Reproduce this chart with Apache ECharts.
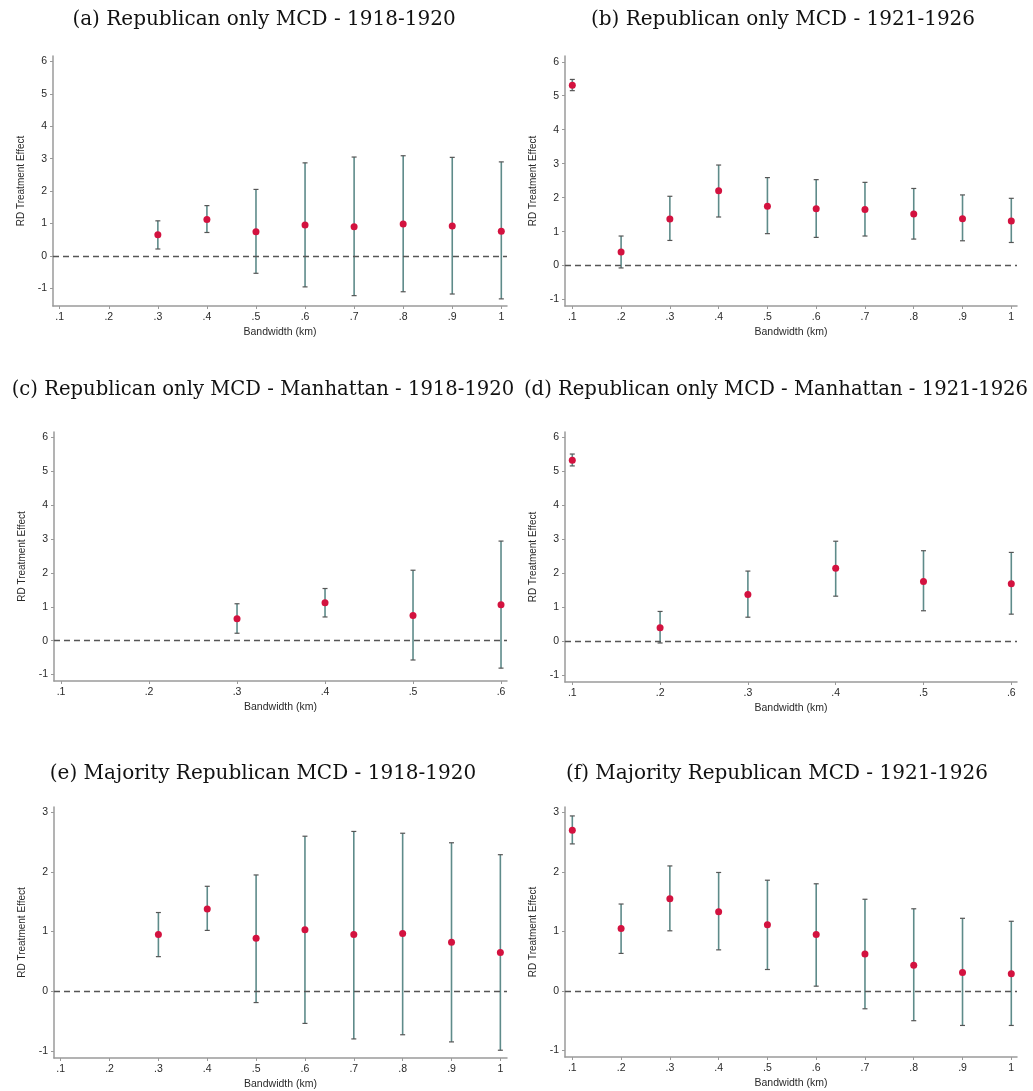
<!DOCTYPE html>
<html>
<head>
<meta charset="utf-8">
<script src="https://cdn.jsdelivr.net/npm/echarts@6/dist/echarts.min.js"></script>
<style>
html,body{margin:0;padding:0;background:#fff;}
#chart{width:1033px;height:1091px;}
</style>
</head>
<body>
<div id="chart"></div>
<script>
// ---------- DATA ----------
const bwFull = [0.1, 0.2, 0.3, 0.4, 0.5, 0.6, 0.7, 0.8, 0.9, 1.0];
const bwManhattan = [0.1, 0.2, 0.3, 0.4, 0.5, 0.6];
const yTicksTop = [-1, 0, 1, 2, 3, 4, 5, 6];
const yTicksBottom = [-1, 0, 1, 2, 3];

const titles = [
  "(a) Republican only MCD - 1918-1920",
  "(b) Republican only MCD - 1921-1926",
  "(c) Republican only MCD - Manhattan - 1918-1920",
  "(d) Republican only MCD - Manhattan - 1921-1926",
  "(e) Majority Republican MCD - 1918-1920",
  "(f) Majority Republican MCD - 1921-1926"
];

const estA = [null, null, 0.65, 1.12, 0.74, 0.95, 0.90, 0.98, 0.92, 0.76];
const loA  = [null, null, 0.21, 0.72, -0.54, -0.96, -1.23, -1.11, -1.18, -1.33];
const hiA  = [null, null, 1.08, 1.55, 2.05, 2.87, 3.05, 3.09, 3.04, 2.90];

const estB = [5.31, 0.40, 1.37, 2.20, 1.75, 1.67, 1.65, 1.52, 1.38, 1.31];
const loB  = [5.15, -0.07, 0.74, 1.43, 0.94, 0.83, 0.87, 0.78, 0.73, 0.68];
const hiB  = [5.48, 0.87, 2.04, 2.96, 2.59, 2.53, 2.45, 2.27, 2.08, 1.98];

const estC = [null, null, 0.65, 1.12, 0.74, 1.06];
const loC  = [null, null, 0.22, 0.70, -0.57, -0.81];
const hiC  = [null, null, 1.09, 1.54, 2.08, 2.94];

const estD = [5.33, 0.39, 1.37, 2.14, 1.75, 1.69];
const loD  = [5.16, -0.06, 0.70, 1.32, 0.89, 0.79];
const hiD  = [5.51, 0.87, 2.06, 2.94, 2.66, 2.61];

const estE = [null, null, 0.95, 1.38, 0.89, 1.03, 0.95, 0.97, 0.82, 0.65];
const loE  = [null, null, 0.58, 1.02, -0.19, -0.54, -0.80, -0.73, -0.85, -0.99];
const hiE  = [null, null, 1.32, 1.76, 1.95, 2.60, 2.68, 2.65, 2.49, 2.29];

const estF = [2.70, 1.05, 1.55, 1.33, 1.11, 0.95, 0.62, 0.43, 0.31, 0.29];
const loF  = [2.47, 0.63, 1.01, 0.69, 0.36, 0.08, -0.30, -0.50, -0.58, -0.58];
const hiF  = [2.94, 1.46, 2.10, 1.99, 1.86, 1.80, 1.54, 1.38, 1.22, 1.17];

// ---------- LAYOUT ----------
const panels = [
  {bw: bwFull, est: estA, lo: loA, hi: hiA, yt: yTicksTop,
   grid: {left: 53, top: 56, width: 454, height: 250}, x: [0.0863, 1.0116], y: [-1.55, 6.17], tx: 259, ty: 5, fs: 20},
  {bw: bwFull, est: estB, lo: loB, hi: hiB, yt: yTicksTop,
   grid: {left: 565, top: 56, width: 452, height: 250}, x: [0.085, 1.0117], y: [-1.19, 6.17], tx: 778, ty: 5, fs: 20},
  {bw: bwManhattan, est: estC, lo: loC, hi: hiC, yt: yTicksTop,
   grid: {left: 54, top: 432, width: 453, height: 249}, x: [0.092, 0.6068], y: [-1.19, 6.16], tx: 258, ty: 375, fs: 19.6},
  {bw: bwManhattan, est: estD, lo: loD, hi: hiD, yt: yTicksTop,
   grid: {left: 565, top: 432, width: 452, height: 250}, x: [0.0917, 0.6065], y: [-1.21, 6.16], tx: 771, ty: 375, fs: 19.6},
  {bw: bwFull, est: estE, lo: loE, hi: hiE, yt: yTicksBottom,
   grid: {left: 54, top: 807, width: 453, height: 251}, x: [0.0863, 1.0136], y: [-1.12, 3.09], tx: 258, ty: 759, fs: 20},
  {bw: bwFull, est: estF, lo: loF, hi: hiF, yt: yTicksBottom,
   grid: {left: 565, top: 807, width: 452, height: 250}, x: [0.085, 1.0117], y: [-1.11, 3.09], tx: 772, ty: 759, fs: 20}
];

const axisCol = '#9a9a9a';
const labelCol = '#2a2a2a';
const fmt = v => {
  const r = Math.round(v * 10) / 10;
  if (r === 0) return '0';
  const s = String(r);
  if (s.startsWith('0.')) return s.slice(1);
  if (s.startsWith('-0.')) return '-' + s.slice(2);
  return s;
};

const option = {
  backgroundColor: '#fff',
  animation: false,
  title: [], grid: [], xAxis: [], yAxis: [], series: []
};

panels.forEach((p, i) => {
  option.title.push({
    text: titles[i], left: p.tx, top: p.ty, textAlign: 'center',
    textStyle: {fontFamily: 'DejaVu Serif', fontSize: p.fs, fontWeight: 'normal', color: '#111'}
  });
  option.grid.push(Object.assign({containLabel: false}, p.grid));
  option.xAxis.push({
    type: 'value', gridIndex: i, min: p.x[0], max: p.x[1],
    name: 'Bandwidth (km)', nameLocation: 'middle', nameGap: 21,
    nameTextStyle: {fontFamily: 'Liberation Sans', fontSize: 10.5, color: labelCol},
    axisLine: {show: true, onZero: false, lineStyle: {color: axisCol, width: 1.5}},
    axisTick: {show: true, length: 3, customValues: p.bw, lineStyle: {color: axisCol, width: 1}},
    axisLabel: {customValues: p.bw, formatter: fmt, margin: 6,
      fontFamily: 'Liberation Sans', fontSize: 10.5, color: labelCol},
    splitLine: {show: false}
  });
  option.yAxis.push({
    type: 'value', gridIndex: i, min: p.y[0], max: p.y[1],
    name: 'RD Treatment Effect', nameLocation: 'middle', nameGap: 27, nameRotate: 90,
    nameTextStyle: {fontFamily: 'Liberation Sans', fontSize: 10, color: labelCol},
    axisLine: {show: true, onZero: false, lineStyle: {color: axisCol, width: 1.5}},
    axisTick: {show: true, length: 3, customValues: p.yt, lineStyle: {color: axisCol, width: 1}},
    axisLabel: {customValues: p.yt, formatter: fmt, margin: 6,
      fontFamily: 'Liberation Sans', fontSize: 10.5, color: labelCol},
    splitLine: {show: false}
  });
  const barData = [], ptData = [];
  p.bw.forEach((b, k) => {
    if (p.est[k] !== null) {
      barData.push([b, p.lo[k], p.hi[k]]);
      ptData.push([b, p.est[k]]);
    }
  });
  // zero reference line
  option.series.push({
    type: 'line', xAxisIndex: i, yAxisIndex: i, data: [], silent: true,
    markLine: {
      silent: true, symbol: 'none', label: {show: false},
      lineStyle: {color: '#555', type: [6, 4], width: 1.3},
      data: [{yAxis: 0}]
    }
  });
  option.series.push({
    type: 'custom', xAxisIndex: i, yAxisIndex: i, data: barData, z: 3,
    renderItem: (params, api) => {
      const top = api.coord([api.value(0), api.value(2)]);
      const bot = api.coord([api.value(0), api.value(1)]);
      const cw = 2.5;
      return {
        type: 'group',
        children: [
          {type: 'line', shape: {x1: top[0], y1: top[1], x2: bot[0], y2: bot[1]},
           style: {stroke: '#5e8b8a', lineWidth: 1.6}},
          {type: 'line', shape: {x1: top[0] - cw, y1: top[1], x2: top[0] + cw, y2: top[1]},
           style: {stroke: '#555', lineWidth: 1.2}},
          {type: 'line', shape: {x1: bot[0] - cw, y1: bot[1], x2: bot[0] + cw, y2: bot[1]},
           style: {stroke: '#555', lineWidth: 1.2}}
        ]
      };
    }
  });
  option.series.push({
    type: 'scatter', xAxisIndex: i, yAxisIndex: i, data: ptData, z: 5,
    symbol: 'circle', symbolSize: 7,
    itemStyle: {color: '#d3123f', opacity: 1}
  });
});

const chart = echarts.init(document.getElementById('chart'), null, {renderer: 'canvas'});
chart.setOption(option);
</script>
</body>
</html>
